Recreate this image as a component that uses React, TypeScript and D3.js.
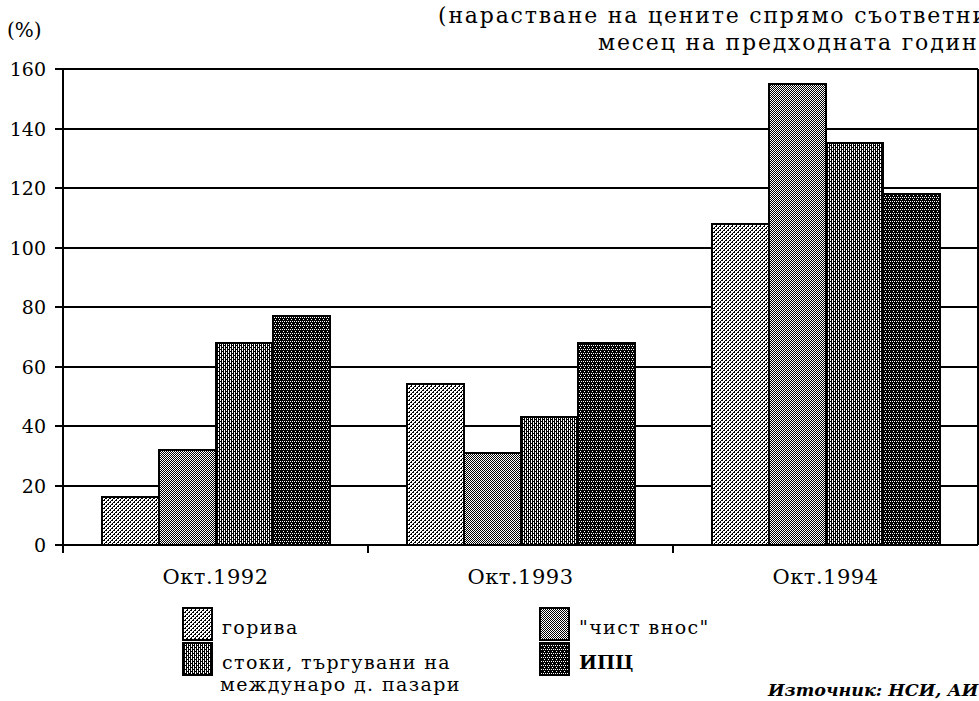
import React from "react";
import * as d3 from "d3";

const categories = ["Окт.1992", "Окт.1993", "Окт.1994"];
const gorivaValues = [16, 54, 108];
const chistVnosValues = [32, 31, 155];
const stokiValues = [68, 43, 135];
const ipcValues = [77, 68, 118];
const yTicks = [0, 20, 40, 60, 80, 100, 120, 140, 160];
const titleLines = ["(нарастване на цените спрямо съответния", "месец на предходната година)"];
const sourceText = "Източник: НСИ, АИ";

const seriesValues = [gorivaValues, chistVnosValues, stokiValues, ipcValues];
const seriesKeys = ["s0", "s1", "s2", "s3"];

// dither patterns: list of black pixel coords within 4x4 tile
const patternPixels: number[][][] = [
  [[0, 0], [1, 0], [2, 2], [3, 2], [1, 3], [3, 1]],
  [[0, 0], [2, 0], [1, 1], [3, 1], [0, 2], [2, 2], [1, 3], [3, 3]],
  [[0, 0], [0, 1], [0, 2], [0, 3], [2, 0], [2, 1], [2, 2], [2, 3], [1, 1], [3, 3]],
  [[0, 0], [1, 0], [2, 0], [3, 0], [0, 1], [2, 1], [0, 2], [1, 2], [2, 2], [3, 2], [1, 3], [2, 3], [3, 3]],
];

const FONT = "DejaVu Serif";

export default function App() {
  const W = 979, H = 701;
  const left = 63, right = 978, top = 69, bottom = 545;
  const x0 = d3.scaleBand<string>().domain(categories).range([left, right]).padding(0);
  const groupW = 228;
  const bw = x0.bandwidth();
  const x1 = d3.scaleBand<string>().domain(seriesKeys).range([(bw - groupW) / 2, (bw + groupW) / 2]).padding(0);
  const y = d3.scaleLinear().domain([0, 160]).range([bottom, top]);

  const legendItems = [
    { key: "s0", x: 183, y: 608, lines: ["горива"], bold: false },
    { key: "s2", x: 183, y: 643, lines: ["стоки, търгувани на", "междунаро д. пазари"], bold: false },
    { key: "s1", x: 540, y: 608, lines: ["\"чист внос\""], bold: false },
    { key: "s3", x: 540, y: 643, lines: ["ИПЦ"], bold: true },
  ];

  return (
    <svg width={W} height={H} style={{ position: "absolute", left: 0, top: 0, background: "#fff" }}
      shapeRendering="crispEdges">
      <defs>
        {patternPixels.map((px, i) => (
          <pattern key={i} id={`pat${i}`} width={4} height={4} patternUnits="userSpaceOnUse">
            <rect width={4} height={4} fill="#fff" />
            {px.map(([a, b], j) => (
              <rect key={j} x={a} y={b} width={1} height={1} fill="#000" />
            ))}
          </pattern>
        ))}
      </defs>
      <rect width={W} height={H} fill="#fff" />

      {/* title */}
      <text x={438} y={23} fontFamily={FONT} fontSize={22} letterSpacing={1.8} fill="#000">{titleLines[0]}</text>
      <text x={598} y={50} fontFamily={FONT} fontSize={22} letterSpacing={1.8} fill="#000">{titleLines[1]}</text>
      <text x={7} y={37} fontFamily={FONT} fontSize={20} fill="#000">(%)</text>

      {/* gridlines */}
      {yTicks.map((t) => (
        <line key={t} x1={left - 8} x2={right} y1={y(t)} y2={y(t)} stroke="#000" strokeWidth={2} />
      ))}
      <line x1={right} x2={right} y1={top} y2={bottom} stroke="#000" strokeWidth={1.5} />

      {/* bars */}
      {categories.map((c, ci) => (
        <g key={c} transform={`translate(${x0(c)},0)`}>
          {seriesKeys.map((k, si) => {
            const v = seriesValues[si][ci];
            return (
              <rect key={k} x={x1(k)} y={y(v)} width={x1.bandwidth()} height={y(0) - y(v)}
                fill={`url(#pat${si})`} stroke="#000" strokeWidth={2} />
            );
          })}
        </g>
      ))}

      {/* axes */}
      <line x1={left} x2={left} y1={top} y2={bottom + 8} stroke="#000" strokeWidth={2.5} />
      <line x1={left} x2={right} y1={bottom} y2={bottom} stroke="#000" strokeWidth={2} />
      {categories.slice(1).map((c) => (
        <line key={c} x1={x0(c)} x2={x0(c)} y1={bottom} y2={bottom + 8} stroke="#000" strokeWidth={1.5} />
      ))}
      {yTicks.map((t) => (
        <text key={t} x={46} y={y(t) + 7} textAnchor="end" fontFamily={FONT} fontSize={19} fill="#000">{t}</text>
      ))}
      {categories.map((c) => (
        <text key={c} x={(x0(c) as number) + bw / 2} y={584} textAnchor="middle" fontFamily={FONT} fontSize={21} letterSpacing={0.5} fill="#000">{c}</text>
      ))}

      {/* legend */}
      {legendItems.map((it) => {
        const si = seriesKeys.indexOf(it.key);
        return (
          <g key={it.key}>
            <rect x={it.x} y={it.y} width={29} height={32} fill={`url(#pat${si})`} stroke="#000" strokeWidth={1.5} />
            {it.lines.map((ln, li) => (
              <text key={li} x={it.x + 39 - li * 2} y={it.y + 26 + li * 22} fontFamily={FONT} fontSize={19}
                letterSpacing={it.bold ? 0 : 1.4}
                fontWeight={it.bold ? "bold" : "normal"} fill="#000">{ln}</text>
            ))}
          </g>
        );
      })}

      <text x={768} y={696} fontFamily={FONT} fontSize={17.5} fontWeight="bold" fontStyle="italic" fill="#000">{sourceText}</text>
    </svg>
  );
}
